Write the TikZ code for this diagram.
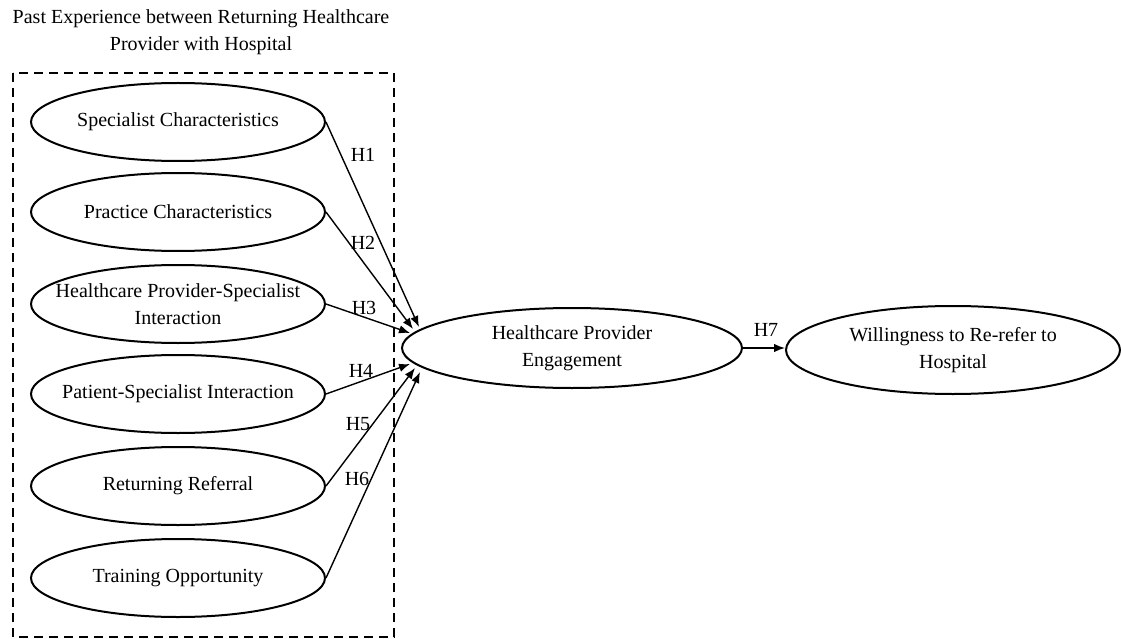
\documentclass[tikz,border=0pt]{standalone}
\usepackage{fontspec}
\setmainfont{Liberation Serif}
\usetikzlibrary{shapes.geometric,arrows.meta}
\begin{document}
\begin{tikzpicture}[x=1pt,y=-1pt,
  every node/.style={font=\fontsize{20}{27}\selectfont},
  construct/.style={draw, ellipse, line width=2pt, inner xsep=-40pt, inner ysep=-12pt, align=center},
  leftc/.style={construct, minimum width=294pt, minimum height=78pt},
  link/.style={line width=1.4pt, -{Latex[length=11pt,width=8.5pt]}},
  hlab/.style={inner sep=0pt},
  group/.style={draw, line width=2.4pt, dash pattern=on 9pt off 6pt}
]
\useasboundingbox (0,0) rectangle (1121,639);
\node (title) at (201,32) [align=center] {Past Experience between Returning Healthcare\\Provider with Hospital};
\draw[group] (13,73) rectangle (394,637);
\node[leftc] (sc) at (178,122) {Specialist Characteristics};
\node[leftc] (pc) at (178,212) {Practice Characteristics};
\node[leftc] (hpsi) at (178,304) {Healthcare Provider-Specialist\\Interaction};
\node[leftc] (psi) at (178,394) {Patient-Specialist Interaction};
\node[leftc] (rr) at (178,486) {Returning Referral};
\node[leftc] (to) at (178,578) {Training Opportunity};
\node[construct, minimum width=340pt, minimum height=80pt] (hpe) at (572,348) {Healthcare Provider\\Engagement};
\node[construct, minimum width=334pt, minimum height=88pt] (wr) at (953,350) {Willingness to Re-refer to\\Hospital};
\coordinate (t1) at (419,327);
\coordinate (t2) at (413,329);
\coordinate (t3) at (410,333);
\coordinate (t4) at (410,364);
\coordinate (t5) at (415,368);
\coordinate (t6) at (420,372);
\draw[link] (sc.east) -- (t1);
\draw[link] (pc.east) -- (t2);
\draw[link] (hpsi.east) -- (t3);
\draw[link] (psi.east) -- (t4);
\draw[link] (rr.east) -- (t5);
\draw[link] (to.east) -- (t6);
\draw[link] (hpe.east) -- (hpe.east -| wr.west);
\node[hlab] (h1) at (363,155) {H1};
\node[hlab] (h2) at (363,243) {H2};
\node[hlab] (h3) at (364,308) {H3};
\node[hlab] (h4) at (361,371) {H4};
\node[hlab] (h5) at (358,424) {H5};
\node[hlab] (h6) at (357,479) {H6};
\node[hlab] (h7) at (766,330) {H7};
\end{tikzpicture}
\end{document}
